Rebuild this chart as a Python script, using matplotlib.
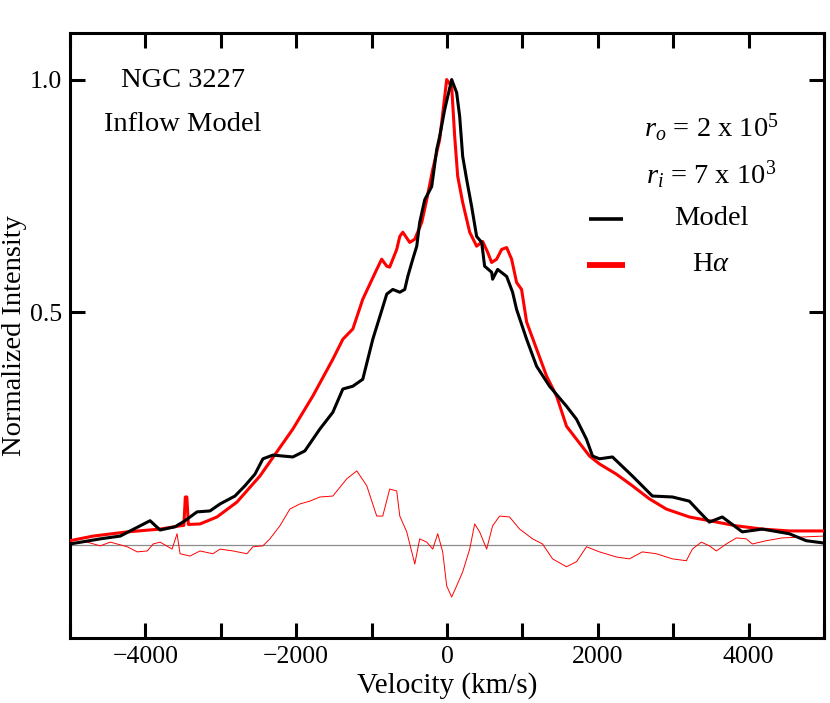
import matplotlib
matplotlib.use("Agg")
import matplotlib.pyplot as plt
from matplotlib.ticker import MultipleLocator, FixedLocator

plt.rcParams['font.family'] = ['Liberation Serif', 'DejaVu Serif']
plt.rcParams['mathtext.fontset'] = 'custom'
plt.rcParams['mathtext.rm'] = 'Liberation Serif'
plt.rcParams['mathtext.it'] = 'Liberation Serif:italic'

# Model profile (velocity km/s, normalized intensity)
model_v = [-5000, -4598, -4333, -3938, -3805, -3607, -3474, -3315, -3143, -3010, -2812,
           -2680, -2547, -2441, -2309, -2177, -2044, -1885, -1686, -1514, -1381, -1249,
           -1117, -984, -852, -799, -719, -626, -560, -520, -454, -401, -362, -295, -203,
           -136, -97, -30, 62, 128, 168, 208, 261, 327, 393, 460, 499, 592, 605, 672, 791,
           870, 923, 1056, 1188, 1360, 1585, 1718, 1850, 1930, 2022, 2194, 2459, 2724,
           2989, 3214, 3347, 3479, 3651, 3916, 4181, 4539, 4764, 5000]
model_y = [0.002, 0.013, 0.019, 0.052, 0.032, 0.039, 0.052, 0.071, 0.073, 0.088, 0.105,
           0.127, 0.152, 0.185, 0.193, 0.191, 0.189, 0.202, 0.249, 0.285, 0.335, 0.341,
           0.356, 0.442, 0.511, 0.539, 0.549, 0.543, 0.549, 0.577, 0.614, 0.642, 0.693,
           0.742, 0.770, 0.850, 0.878, 0.936, 1.000, 0.972, 0.921, 0.835, 0.785, 0.727,
           0.663, 0.650, 0.599, 0.586, 0.571, 0.592, 0.577, 0.543, 0.506, 0.442, 0.384,
           0.341, 0.298, 0.270, 0.227, 0.191, 0.185, 0.189, 0.148, 0.105, 0.103, 0.094,
           0.071, 0.049, 0.060, 0.028, 0.034, 0.024, 0.009, 0.004]

# H-alpha profile
ha_v = [-5000, -4691, -4240, -3805, -3540, -3490, -3470, -3450, -3430, -3276, -3051,
        -2786, -2481, -2256, -2044, -1779, -1514, -1381, -1249, -1117, -932, -866, -799,
        -760, -667, -626, -586, -494, -427, -335, -269, -189, -97, -4, 62, 102, 142, 208,
        301, 393, 473, 539, 592, 658, 725, 791, 857, 923, 989, 1056, 1188, 1320, 1453,
        1585, 1718, 1890, 2022, 2247, 2459, 2684, 2909, 3214, 3479, 3837, 4181, 4539, 5000]
ha_y = [0.009, 0.019, 0.028, 0.034, 0.041, 0.042, 0.103, 0.103, 0.044, 0.045, 0.060,
        0.092, 0.148, 0.200, 0.249, 0.320, 0.399, 0.442, 0.464, 0.528, 0.592, 0.614, 0.599,
        0.597, 0.635, 0.663, 0.672, 0.650, 0.657, 0.693, 0.742, 0.807, 0.871, 1.000, 0.985,
        0.878, 0.792, 0.736, 0.672, 0.642, 0.652, 0.629, 0.607, 0.614, 0.635, 0.639, 0.614,
        0.564, 0.549, 0.479, 0.421, 0.363, 0.320, 0.255, 0.227, 0.191, 0.174, 0.152, 0.127,
        0.099, 0.077, 0.060, 0.052, 0.041, 0.034, 0.030, 0.030]

# Residual (H-alpha minus model)
res_v = [-5000, -4774, -4598, -4465, -4240, -4108, -3975, -3896, -3805, -3646, -3580,
         -3540, -3408, -3276, -3104, -3010, -2838, -2653, -2574, -2441, -2349, -2216,
         -2084, -1951, -1819, -1686, -1514, -1329, -1196, -1064, -932, -852, -760, -667,
         -626, -534, -427, -362, -269, -189, -123, -57, -4, 62, 128, 208, 301, 367, 433,
         526, 605, 698, 830, 963, 1135, 1267, 1400, 1585, 1718, 1850, 2022, 2247, 2419,
         2591, 2777, 2989, 3174, 3254, 3373, 3479, 3572, 3704, 3837, 3969, 4049, 4234,
         4446, 4711, 5000]
res_y = [0.002, 0.006, -0.002, 0.006, -0.004, -0.015, -0.013, 0.002, 0.006, -0.009, 0.024,
         -0.019, -0.024, -0.013, -0.019, -0.009, -0.013, -0.019, -0.004, -0.002, 0.013,
         0.041, 0.077, 0.088, 0.094, 0.103, 0.105, 0.142, 0.159, 0.127, 0.062, 0.062,
         0.120, 0.116, 0.062, 0.028, -0.041, 0.013, 0.006, -0.009, 0.024, -0.015, -0.088,
         -0.112, -0.088, -0.058, -0.009, 0.045, 0.028, -0.009, 0.041, 0.062, 0.060, 0.034,
         0.013, 0.002, -0.030, -0.047, -0.036, -0.004, -0.015, -0.026, -0.030, -0.015,
         -0.019, -0.030, -0.034, -0.009, 0.006, -0.002, -0.013, 0.002, 0.015, 0.013, 0.002,
         0.009, 0.015, 0.017, 0.019]

x_ticks = [-4000, -2000, 0, 2000, 4000]
y_ticks = [0.5, 1.0]

fig = plt.figure(figsize=(8.30, 7.03), dpi=100)
ax = fig.add_axes([0.0843, 0.0925, 0.9085, 0.8605])

ax.axhline(0, color='#8c8c8c', lw=0.9, zorder=1)
ax.plot(res_v, res_y, color='red', lw=0.7, zorder=2)
ax.plot(ha_v, ha_y, color='red', lw=2.2, zorder=3)
ax.plot(model_v, model_y, color='black', lw=2.2, zorder=4)

ax.set_xlim(-5000, 5000)
ax.set_ylim(-0.2, 1.1)
ax.xaxis.set_major_locator(FixedLocator(x_ticks))
ax.xaxis.set_minor_locator(MultipleLocator(1000))
ax.yaxis.set_major_locator(FixedLocator(y_ticks))
ax.yaxis.set_minor_locator(FixedLocator([]))
ax.set_xticklabels(['\u22124000', '\u22122000', '0', '2000', '4000'])
ax.set_yticklabels(['0.5', '1.0'])

for s in ax.spines.values():
    s.set_linewidth(2.2)
ax.tick_params(which='both', direction='in', top=True, right=True, length=10.5,
               width=2.2, labelsize=18.5, pad=6)

ax.set_xlabel('Velocity (km/s)', fontsize=21, labelpad=3)
ylab = ax.set_ylabel('Normalized Intensity', fontsize=20.5, va='center')
ax.yaxis.set_label_coords(-0.073, 0.5)

fs = 20.5
ax.text(0.150, 0.922, 'NGC 3227', transform=ax.transAxes, ha='center', va='center', fontsize=fs)
ax.text(0.150, 0.848, 'Inflow Model', transform=ax.transAxes, ha='center', va='center', fontsize=fs)
ax.text(0.850, 0.843, r'$r_o$ = 2 x 10$^5$', transform=ax.transAxes, ha='center', va='center', fontsize=fs)
ax.text(0.850, 0.765, r'$r_i$ = 7 x 10$^3$', transform=ax.transAxes, ha='center', va='center', fontsize=fs)

ax.plot([0.688, 0.733], [0.693, 0.693], transform=ax.transAxes, color='black', lw=2.6, solid_capstyle='butt')
ax.plot([0.686, 0.736], [0.617, 0.617], transform=ax.transAxes, color='red', lw=4.2, solid_capstyle='butt')
ax.text(0.850, 0.693, 'Model', transform=ax.transAxes, ha='center', va='center', fontsize=fs)
ax.text(0.850, 0.617, r'H$\alpha$', transform=ax.transAxes, ha='center', va='center', fontsize=fs)

fig.savefig('out.png', dpi=100)
